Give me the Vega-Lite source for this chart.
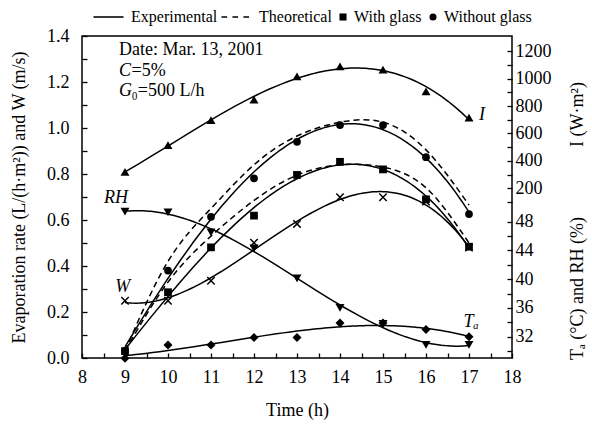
{
  "$schema": "https://vega.github.io/schema/vega-lite/v6.json",
  "width": 430,
  "height": 322,
  "autosize": "none",
  "padding": {"left": 82, "top": 36, "right": 80, "bottom": 70},
  "background": "white",
  "config": {
    "font": "Liberation Serif",
    "view": {"stroke": "black", "strokeWidth": 1.5},
    "axis": {
      "grid": false,
      "domain": false,
      "tickColor": "black",
      "tickSize": -5,
      "tickWidth": 1.3,
      "labelFont": "Liberation Serif",
      "labelFontSize": 18,
      "labelColor": "black",
      "titleFont": "Liberation Serif",
      "titleFontSize": 18,
      "titleFontWeight": "normal",
      "titleColor": "black",
      "labelOverlap": false,
      "labelFlush": false,
      "labelBound": false
    },
    "text": {"font": "Liberation Serif", "fontSize": 18, "color": "black"}
  },
  "datasets": {
    "obs": [
      {"hour": 9, "series": "With glass", "value": 0.03},
      {"hour": 10, "series": "With glass", "value": 0.286},
      {"hour": 11, "series": "With glass", "value": 0.481},
      {"hour": 12, "series": "With glass", "value": 0.619},
      {"hour": 13, "series": "With glass", "value": 0.796},
      {"hour": 14, "series": "With glass", "value": 0.853},
      {"hour": 15, "series": "With glass", "value": 0.82},
      {"hour": 16, "series": "With glass", "value": 0.69},
      {"hour": 17, "series": "With glass", "value": 0.484},
      {"hour": 9, "series": "Without glass", "value": 0.03},
      {"hour": 10, "series": "Without glass", "value": 0.38},
      {"hour": 11, "series": "Without glass", "value": 0.614},
      {"hour": 12, "series": "Without glass", "value": 0.781},
      {"hour": 13, "series": "Without glass", "value": 0.94},
      {"hour": 14, "series": "Without glass", "value": 1.013},
      {"hour": 15, "series": "Without glass", "value": 1.013},
      {"hour": 16, "series": "Without glass", "value": 0.873},
      {"hour": 17, "series": "Without glass", "value": 0.626},
      {"hour": 9, "series": "W", "value": 0.249},
      {"hour": 10, "series": "W", "value": 0.249},
      {"hour": 11, "series": "W", "value": 0.336},
      {"hour": 12, "series": "W", "value": 0.501},
      {"hour": 13, "series": "W", "value": 0.583},
      {"hour": 14, "series": "W", "value": 0.699},
      {"hour": 15, "series": "W", "value": 0.699},
      {"hour": 16, "series": "W", "value": 0.68},
      {"hour": 17, "series": "W", "value": 0.48},
      {"hour": 9, "series": "I", "value": 320},
      {"hour": 10, "series": "I", "value": 515},
      {"hour": 11, "series": "I", "value": 697},
      {"hour": 12, "series": "I", "value": 847},
      {"hour": 13, "series": "I", "value": 1016},
      {"hour": 14, "series": "I", "value": 1088},
      {"hour": 15, "series": "I", "value": 1065},
      {"hour": 16, "series": "I", "value": 907},
      {"hour": 17, "series": "I", "value": 715},
      {"hour": 9, "series": "Ta", "value": 29.0},
      {"hour": 10, "series": "Ta", "value": 30.85},
      {"hour": 11, "series": "Ta", "value": 30.85},
      {"hour": 12, "series": "Ta", "value": 31.9},
      {"hour": 13, "series": "Ta", "value": 31.9},
      {"hour": 14, "series": "Ta", "value": 33.9},
      {"hour": 15, "series": "Ta", "value": 33.9},
      {"hour": 16, "series": "Ta", "value": 33.0},
      {"hour": 17, "series": "Ta", "value": 32.0},
      {"hour": 9, "series": "RH", "value": 49.4},
      {"hour": 10, "series": "RH", "value": 49.3},
      {"hour": 11, "series": "RH", "value": 46.5},
      {"hour": 12, "series": "RH", "value": 44.3},
      {"hour": 13, "series": "RH", "value": 40.1},
      {"hour": 14, "series": "RH", "value": 36.0},
      {"hour": 15, "series": "RH", "value": 33.8},
      {"hour": 16, "series": "RH", "value": 30.85},
      {"hour": 17, "series": "RH", "value": 30.85}
    ],
    "theo": [
      {"hour": 9, "series": "Without glass", "value": 0.03},
      {"hour": 10, "series": "Without glass", "value": 0.42},
      {"hour": 11, "series": "Without glass", "value": 0.65},
      {"hour": 12, "series": "Without glass", "value": 0.84},
      {"hour": 13, "series": "Without glass", "value": 0.965},
      {"hour": 14, "series": "Without glass", "value": 1.025},
      {"hour": 15, "series": "Without glass", "value": 1.025},
      {"hour": 16, "series": "Without glass", "value": 0.905},
      {"hour": 17, "series": "Without glass", "value": 0.665},
      {"hour": 9, "series": "With glass", "value": 0.03},
      {"hour": 10, "series": "With glass", "value": 0.33},
      {"hour": 11, "series": "With glass", "value": 0.53},
      {"hour": 12, "series": "With glass", "value": 0.685},
      {"hour": 13, "series": "With glass", "value": 0.795},
      {"hour": 14, "series": "With glass", "value": 0.84},
      {"hour": 15, "series": "With glass", "value": 0.83},
      {"hour": 16, "series": "With glass", "value": 0.74},
      {"hour": 17, "series": "With glass", "value": 0.5}
    ],
    "notes": [
      {"hour": 8.86, "value": 1.341, "text": "Date: Mar. 13, 2001"},
      {"hour": 8.86, "value": 1.246, "text": "=5%"},
      {"hour": 8.86, "value": 1.16, "text": "₀=500 L/h"}
    ],
    "noteSymbols": [
      {"hour": 8.86, "value": 1.246, "text": "C"},
      {"hour": 8.86, "value": 1.16, "text": "G"}
    ],
    "labels": [
      {"hour": 8.79, "value": 0.696, "text": "RH"},
      {"hour": 8.95, "value": 0.31, "text": "W"},
      {"hour": 17.3, "value": 1.057, "text": "I"},
      {"hour": 17.05, "value": 0.157, "text": "Tₐ"}
    ]
  },
  "encoding": {
    "x": {
      "field": "hour",
      "type": "quantitative",
      "scale": {"domain": [8, 18], "nice": false, "zero": false},
      "axis": {
        "values": [8, 8.5, 9, 9.5, 10, 10.5, 11, 11.5, 12, 12.5, 13, 13.5, 14, 14.5, 15, 15.5, 16, 16.5, 17, 17.5, 18],
        "labelExpr": "datum.value % 1 === 0 ? format(datum.value, 'd') : ''",
        "title": "Time (h)",
        "labelPadding": 15,
        "titleY": 52,
        "titleBaseline": "middle"
      }
    }
  },
  "layer": [
    {
      "encoding": {
        "y": {
          "field": "value",
          "type": "quantitative",
          "scale": {"domain": [0, 1.4], "nice": false, "zero": false},
          "axis": {
            "values": [0, 0.1, 0.2, 0.3, 0.4, 0.5, 0.6, 0.7, 0.8, 0.9, 1.0, 1.1, 1.2, 1.3, 1.4],
            "labelExpr": "round(datum.value * 10) % 2 === 0 ? format(datum.value, '.1f') : ''",
            "labelPadding": 18,
            "title": "Evaporation rate (L/(h·m²)) and W (m/s)",
            "titleAngle": 270,
            "titleX": -63,
            "titleY": 161,
            "titleAlign": "center",
            "titleBaseline": "middle"
          }
        }
      },
      "layer": [
        {
          "data": {"name": "obs"},
          "transform": [
            {"filter": {"field": "series", "oneOf": ["With glass", "Without glass", "W"]}},
            {"regression": "value", "on": "hour", "method": "poly", "order": 3, "groupby": ["series"]}
          ],
          "mark": {"type": "line", "color": "black", "strokeWidth": 1.5},
          "encoding": {"detail": {"field": "series"}}
        },
        {
          "data": {"name": "theo"},
          "mark": {"type": "line", "color": "black", "strokeWidth": 1.5, "strokeDash": [6, 4], "interpolate": "natural"},
          "encoding": {"detail": {"field": "series"}}
        },
        {
          "data": {"name": "obs"},
          "transform": [{"filter": {"field": "series", "oneOf": ["With glass", "Without glass"]}}],
          "mark": {"type": "point", "filled": true, "color": "black", "size": 60, "opacity": 1},
          "encoding": {
            "shape": {
              "field": "series",
              "type": "nominal",
              "scale": {
                "domain": ["Experimental", "Theoretical", "With glass", "Without glass"],
                "range": [
                  "M-7.5,-0.22H1V0.22H-7.5Z",
                  "M-7.5,-0.22H-5.9V0.22H-7.5ZM-4.4,-0.22H-2.8V0.22H-4.4ZM-1.3,-0.22H0.3V0.22H-1.3Z",
                  "square",
                  "circle"
                ]
              },
              "legend": {
                "orient": "none",
                "legendX": 30,
                "legendY": -27,
                "direction": "horizontal",
                "title": null,
                "padding": 0,
                "labelFont": "Liberation Serif",
                "labelFontSize": 16,
                "labelColor": "black",
                "symbolSize": 50,
                "symbolFillColor": "black",
                "symbolStrokeWidth": 0,
                "symbolOpacity": 1,
                "columnPadding": 3,
                "labelOffset": 3,
                "values": ["Experimental", "Theoretical", "With glass", "Without glass"]
              }
            }
          }
        },
        {
          "data": {"name": "obs"},
          "transform": [{"filter": "datum.series === 'W'"}],
          "mark": {"type": "point", "shape": "M-1,-1L1,1M-1,1L1,-1", "filled": false, "color": "black", "strokeWidth": 1.5, "size": 55, "opacity": 1}
        },
        {
          "data": {"name": "notes"},
          "transform": [{"filter": "datum.text !== 'Date: Mar. 13, 2001'"}],
          "mark": {"type": "text", "align": "left", "baseline": "middle", "dx": 12.5},
          "encoding": {"text": {"field": "text"}}
        },
        {
          "data": {"name": "notes"},
          "transform": [{"filter": "datum.text === 'Date: Mar. 13, 2001'"}],
          "mark": {"type": "text", "align": "left", "baseline": "middle"},
          "encoding": {"text": {"field": "text"}}
        },
        {
          "data": {"name": "noteSymbols"},
          "mark": {"type": "text", "align": "left", "baseline": "middle", "fontStyle": "italic"},
          "encoding": {"text": {"field": "text"}}
        },
        {
          "data": {"name": "labels"},
          "mark": {"type": "text", "align": "center", "baseline": "middle", "fontStyle": "italic"},
          "encoding": {"text": {"field": "text"}}
        }
      ]
    },
    {
      "encoding": {
        "y": {
          "field": "value",
          "type": "quantitative",
          "scale": {"domain": [-1036, 1310], "nice": false, "zero": false},
          "axis": {
            "orient": "right",
            "values": [100, 200, 300, 400, 500, 600, 700, 800, 900, 1000, 1100, 1200],
            "format": "d",
            "labelExpr": "datum.value % 200 === 0 ? datum.label : ''",
            "labelPadding": 8,
            "title": "I (W·m²)",
            "titleAngle": 270,
            "titleX": 65,
            "titleY": 78,
            "titleAlign": "center",
            "titleBaseline": "middle"
          }
        }
      },
      "layer": [
        {
          "data": {"name": "obs"},
          "transform": [
            {"filter": "datum.series === 'I'"},
            {"regression": "value", "on": "hour", "method": "poly", "order": 3}
          ],
          "mark": {"type": "line", "color": "black", "strokeWidth": 1.5}
        },
        {
          "data": {"name": "obs"},
          "transform": [{"filter": "datum.series === 'I'"}],
          "mark": {"type": "point", "shape": "triangle-up", "filled": true, "color": "black", "size": 80, "opacity": 1}
        }
      ]
    },
    {
      "encoding": {
        "y": {
          "field": "value",
          "type": "quantitative",
          "scale": {"domain": [29.04, 73.83], "nice": false, "zero": false},
          "axis": {
            "orient": "right",
            "values": [30, 32, 34, 36, 38, 40, 42, 44, 46, 48],
            "labelExpr": "datum.value % 4 === 0 && datum.value >= 32 ? datum.label : ''",
            "labelPadding": 8,
            "title": "Tₐ (°C) and RH (%)",
            "titleAngle": 270,
            "titleX": 65,
            "titleY": 252,
            "titleAlign": "center",
            "titleBaseline": "middle"
          }
        }
      },
      "layer": [
        {
          "data": {"name": "obs"},
          "transform": [
            {"filter": {"field": "series", "oneOf": ["Ta", "RH"]}},
            {"regression": "value", "on": "hour", "method": "poly", "order": 3, "groupby": ["series"]}
          ],
          "mark": {"type": "line", "color": "black", "strokeWidth": 1.5},
          "encoding": {"detail": {"field": "series"}}
        },
        {
          "data": {"name": "obs"},
          "transform": [{"filter": "datum.series === 'Ta'"}],
          "mark": {"type": "point", "shape": "diamond", "filled": true, "color": "black", "size": 80, "opacity": 1}
        },
        {
          "data": {"name": "obs"},
          "transform": [{"filter": "datum.series === 'RH'"}],
          "mark": {"type": "point", "shape": "triangle-down", "filled": true, "color": "black", "size": 80, "opacity": 1}
        }
      ]
    }
  ],
  "resolve": {"scale": {"y": "independent"}}
}
